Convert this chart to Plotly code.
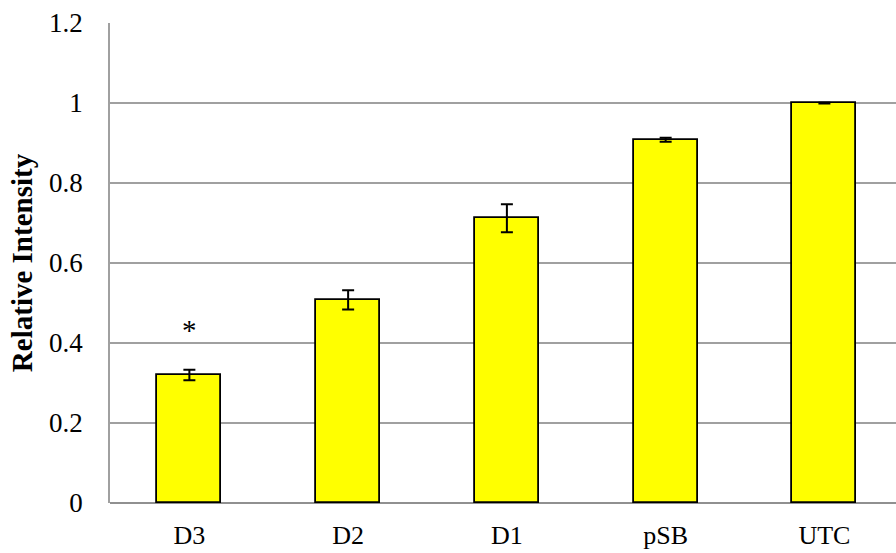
import plotly.graph_objects as go

# Relative intensity per sample with standard-error bars
categories = ["D3", "D2", "D1", "pSB", "UTC"]
values = [0.32, 0.508, 0.712, 0.908, 1.0]
errors = [0.013, 0.024, 0.035, 0.005, 0.001]
y_ticks = [0, 0.2, 0.4, 0.6, 0.8, 1, 1.2]
y_tick_text = ["0", "0.2", "0.4", "0.6", "0.8", "1", "1.2"]

serif = "Liberation Serif, Times New Roman, serif"

fig = go.Figure()
fig.add_trace(go.Bar(
    x=categories,
    y=values,
    width=0.403,
    marker=dict(color="#ffff00", line=dict(color="#000000", width=1.8)),
    error_y=dict(type="data", array=errors, visible=True,
                 color="#000000", thickness=2, width=6),
))

# significance marker over D3
fig.add_annotation(x="D3", y=0.432, text="*", showarrow=False,
                   yanchor="middle", font=dict(family=serif, size=29, color="#000"))

fig.update_layout(
    width=896, height=553,
    margin=dict(l=110, r=0, t=23, b=50),
    plot_bgcolor="white", paper_bgcolor="white",
    showlegend=False,
    bargap=0,
    xaxis=dict(
        range=[-0.5, 4.451],
        showgrid=False,
        showline=False,
        ticks="",
        tickfont=dict(family=serif, size=26, color="#000"),
        ticklabelstandoff=14,
    ),
    yaxis=dict(
        range=[0, 1.2001],
        tickvals=y_ticks,
        ticktext=y_tick_text,
        showgrid=True, gridcolor="#a0a0a0", gridwidth=1.5,
        showline=True, linecolor="#a0a0a0", linewidth=1.5,
        zeroline=True, zerolinecolor="#909090", zerolinewidth=2,
        ticks="",
        ticklabelstandoff=20,
        tickfont=dict(family=serif, size=27, color="#000"),
        title=dict(text="<b>Relative Intensity</b>", standoff=8,
                   font=dict(family=serif, size=29, color="#000")),
    ),
)

fig.write_html("out.html")
